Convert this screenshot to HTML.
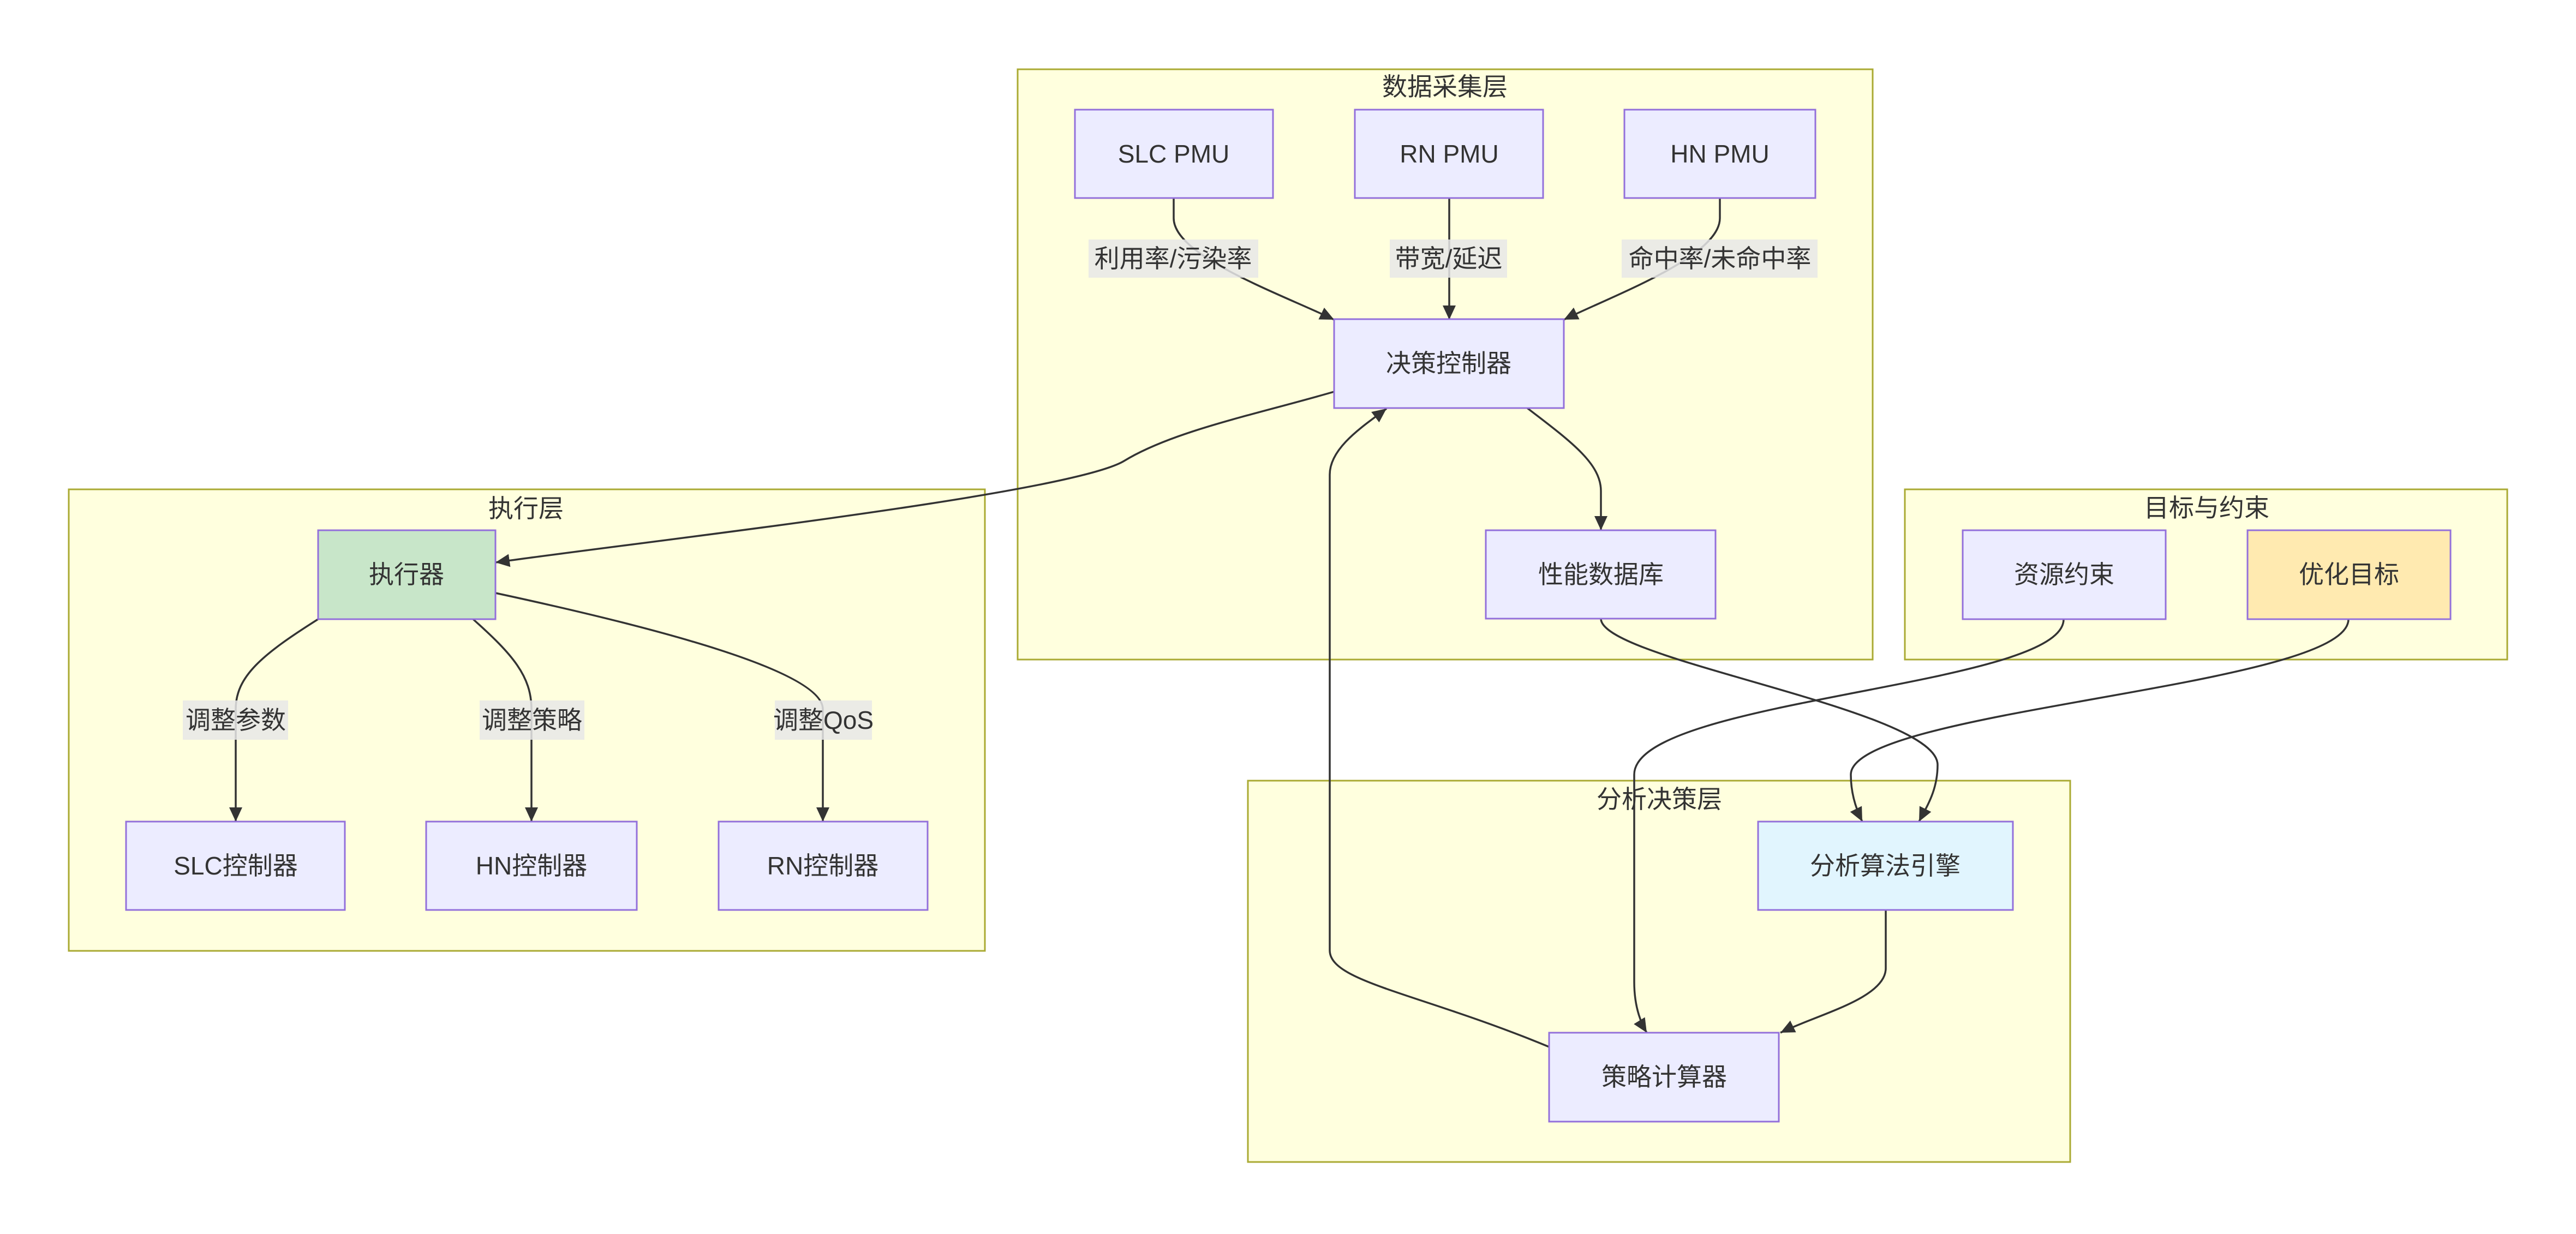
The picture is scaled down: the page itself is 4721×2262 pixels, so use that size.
<!DOCTYPE html>
<html><head><meta charset="utf-8"><style>
html,body{margin:0;padding:0;background:#fff;}
svg text{font-family:"Liberation Sans","Noto Sans CJK SC",sans-serif;fill:#333;font-size:46px;dominant-baseline:central;text-anchor:middle;}
.cl{fill:#ffffde;stroke:#aaaa33;stroke-width:3;}
.nd{fill:#ececff;stroke:#9370db;stroke-width:3;}
.e{fill:none;stroke:#333;stroke-width:3.5;}
.lb{fill:#e8e8e8;opacity:0.85;}
</style></head><body>
<svg width="4721" height="2257" viewBox="0 0 4721 2257" xmlns="http://www.w3.org/2000/svg">
<defs><marker id="a" markerUnits="userSpaceOnUse" markerWidth="30" markerHeight="30" refX="26" refY="12" orient="auto"><path d="M0,0 L26,12 L0,24 z" fill="#333"/></marker></defs>
<!-- clusters -->
<rect class="cl" x="1865" y="127" width="1567" height="1082"/>
<text x="2648" y="159">数据采集层</text>
<rect class="cl" x="126" y="897" width="1679" height="846"/>
<text x="964" y="932">执行层</text>
<rect class="cl" x="3491" y="897" width="1104" height="312"/>
<text x="4044" y="931">目标与约束</text>
<rect class="cl" x="2287" y="1431" width="1507" height="699"/>
<text x="3041" y="1465">分析决策层</text>
<!-- edges -->
<path class="e" marker-end="url(#a)" d="M2151,363 L2151,400 C2151,470 2350,540 2445,586"/>
<path class="e" marker-end="url(#a)" d="M2656,363 L2656,586"/>
<path class="e" marker-end="url(#a)" d="M3152,363 L3152,400 C3152,470 2960,540 2866,586"/>
<path class="e" marker-end="url(#a)" d="M2445,718 C2300,760 2150,790 2060,845 C1960,905 1200,990 908,1031"/>
<path class="e" marker-end="url(#a)" d="M2799,748 C2880,810 2934,850 2934,900 L2934,972"/>
<path class="e" marker-end="url(#a)" d="M2934,1134 C2934,1210 3551,1300 3551,1402 C3551,1450 3530,1480 3517,1506"/>
<path class="e" marker-end="url(#a)" d="M3782,1135 C3782,1260 2995,1280 2995,1420 L2995,1800 C2995,1850 3010,1880 3018,1893"/>
<path class="e" marker-end="url(#a)" d="M4304,1135 C4304,1260 3392,1300 3392,1420 C3392,1460 3405,1490 3413,1506"/>
<path class="e" marker-end="url(#a)" d="M3456,1668 L3456,1775 C3456,1830 3330,1860 3263,1893"/>
<path class="e" marker-end="url(#a)" d="M2839,1919 C2600,1820 2437,1800 2437,1742 L2437,870 C2437,820 2500,780 2541,749"/>
<path class="e" marker-end="url(#a)" d="M583,1135 C480,1200 432,1240 432,1300 L432,1506"/>
<path class="e" marker-end="url(#a)" d="M867,1135 C940,1200 974,1240 974,1300 L974,1506"/>
<path class="e" marker-end="url(#a)" d="M908,1087 C1200,1150 1508,1230 1508,1300 L1508,1506"/>
<!-- edge labels -->
<rect class="lb" x="1995" y="439" width="311" height="70"/><text x="2150" y="474">利用率/污染率</text>
<rect class="lb" x="2547" y="439" width="215" height="70"/><text x="2655" y="474">带宽/延迟</text>
<rect class="lb" x="2972" y="439" width="359" height="70"/><text x="3152" y="474">命中率/未命中率</text>
<rect class="lb" x="335" y="1284" width="193" height="72"/><text x="432" y="1320">调整参数</text>
<rect class="lb" x="879" y="1284" width="192" height="72"/><text x="975" y="1320">调整策略</text>
<rect class="lb" x="1420" y="1284" width="178" height="72"/><text x="1509" y="1320">调整QoS</text>
<!-- nodes -->
<rect class="nd" x="1970" y="201" width="363" height="162"/><text x="2151" y="282">SLC PMU</text>
<rect class="nd" x="2483" y="201" width="345" height="162"/><text x="2656" y="282">RN PMU</text>
<rect class="nd" x="2977" y="201" width="350" height="162"/><text x="3152" y="282">HN PMU</text>
<rect class="nd" x="2445" y="585" width="421" height="163"/><text x="2655" y="666">决策控制器</text>
<rect class="nd" x="2723" y="972" width="421" height="162"/><text x="2934" y="1053">性能数据库</text>
<rect class="nd" x="583" y="972" width="325" height="163" style="fill:#c8e6c9"/><text x="745" y="1053">执行器</text>
<rect class="nd" x="231" y="1506" width="401" height="162"/><text x="432" y="1587">SLC控制器</text>
<rect class="nd" x="781" y="1506" width="386" height="162"/><text x="974" y="1587">HN控制器</text>
<rect class="nd" x="1317" y="1506" width="383" height="162"/><text x="1508" y="1587">RN控制器</text>
<rect class="nd" x="3597" y="972" width="372" height="163"/><text x="3783" y="1053">资源约束</text>
<rect class="nd" x="4119" y="972" width="372" height="163" style="fill:#ffeab0"/><text x="4305" y="1053">优化目标</text>
<rect class="nd" x="3222" y="1506" width="467" height="162" style="fill:#e1f5fe"/><text x="3455" y="1587">分析算法引擎</text>
<rect class="nd" x="2839" y="1893" width="421" height="163"/><text x="3050" y="1974">策略计算器</text>
</svg>
</body></html>
